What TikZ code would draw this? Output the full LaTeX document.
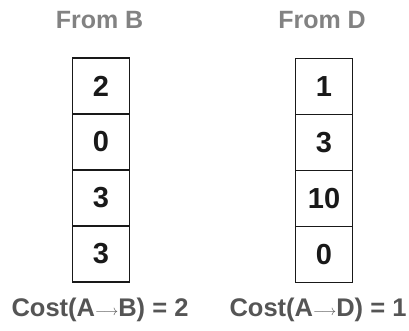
\documentclass[tikz,border=0pt]{standalone}
\usepackage{fontspec}
\setmainfont{Liberation Sans}
\usepackage{tikz}
\usetikzlibrary{positioning}
\definecolor{titleGray}{RGB}{130,130,130}
\definecolor{costGray}{RGB}{85,85,85}
\definecolor{cellInk}{RGB}{25,25,25}

\begin{document}
\begin{tikzpicture}[x=1pt,y=-1pt,
  cell/.style={rectangle,draw=cellInk,line width=1.9pt,minimum width=57pt,
               minimum height=56pt,inner sep=0pt,text=cellInk,
               font=\fontsize{29}{29}\selectfont\bfseries},
  head/.style={font=\fontsize{25}{25}\selectfont\bfseries,text=titleGray},
  cost/.style={font=\fontsize{25.5}{25.5}\selectfont\bfseries,text=costGray}
]
  \useasboundingbox (0,0) rectangle (409,330);

  \node[head](titleB) at (99.5,20) {From B};
  \node[head](titleD) at (322,20)  {From D};

  \node[cell](b1) at (101,86)  {2};
  \node[cell](b2) at (101,142) {0};
  \node[cell](b3) at (101,198) {3};
  \node[cell](b4) at (101,254) {3};

  \node[cell](d1) at (324,86.5)  {1};
  \node[cell](d2) at (324,142.5) {3};
  \node[cell](d3) at (324,198.5) {10};
  \node[cell](d4) at (324,254.5) {0};

  \node[cost](costB) at (100,310)
      {Cost(A\raisebox{1.5pt}{\fontsize{14}{14}\selectfont$\longrightarrow$}B) = 2};
  \node[cost](costD) at (318,310)
      {Cost(A\raisebox{1.5pt}{\fontsize{14}{14}\selectfont$\longrightarrow$}D) = 1};
\end{tikzpicture}
\end{document}
